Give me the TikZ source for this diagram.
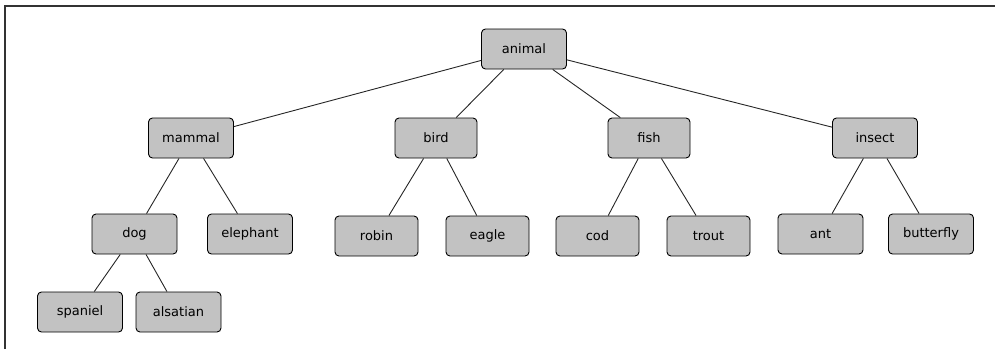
\documentclass[tikz,border=0pt]{standalone}
\usepackage{fontspec}
\setmainfont{DejaVu Sans}
\definecolor{boxgray}{HTML}{C2C2C2}
\definecolor{framegray}{HTML}{333333}
\begin{document}
\begin{tikzpicture}[x=1pt,y=-1pt,
  treenode/.style={draw=black, fill=boxgray, line width=0.9pt, rounded corners=4pt,
    minimum width=85pt, minimum height=40pt, inner sep=0pt,
    font=\fontsize{13}{15}\selectfont, text=black},
  edge/.style={draw=black!85, line width=0.9pt}]
\useasboundingbox (0,0) rectangle (995,349);
\coordinate (fc1) at (5,349);
\coordinate (fc2) at (5,6);
\coordinate (fc3) at (995,6);
\draw[framegray, line width=1.2pt] (fc1) -- (fc2) -- (fc3);
\node[treenode] (animal) at (524,49) {animal};
\node[treenode] (mammal) at (191,138) {mammal};
\node[treenode, minimum width=82pt] (bird) at (436,138) {bird};
\node[treenode, minimum width=82pt] (fish) at (649,138) {fish};
\node[treenode] (insect) at (875,138) {insect};
\node[treenode] (dog) at (134.5,234) {dog};
\node[treenode] (elephant) at (250,234) {elephant};
\node[treenode, minimum width=83pt] (robin) at (376.5,236) {robin};
\node[treenode, minimum width=83pt] (eagle) at (487.5,236) {eagle};
\node[treenode, minimum width=83pt] (cod) at (597.5,236) {cod};
\node[treenode, minimum width=83pt] (trout) at (708.5,236) {trout};
\node[treenode] (ant) at (820.5,234) {ant};
\node[treenode] (butterfly) at (931,234) {butterfly};
\node[treenode] (spaniel) at (80,312) {spaniel};
\node[treenode] (alsatian) at (178.5,312) {alsatian};
\foreach \a/\b in {animal/mammal, animal/bird, animal/fish, animal/insect,
  mammal/dog, mammal/elephant, bird/robin, bird/eagle, fish/cod, fish/trout,
  insect/ant, insect/butterfly, dog/spaniel, dog/alsatian}
  \draw[edge] (\a) -- (\b);
\end{tikzpicture}
\end{document}
